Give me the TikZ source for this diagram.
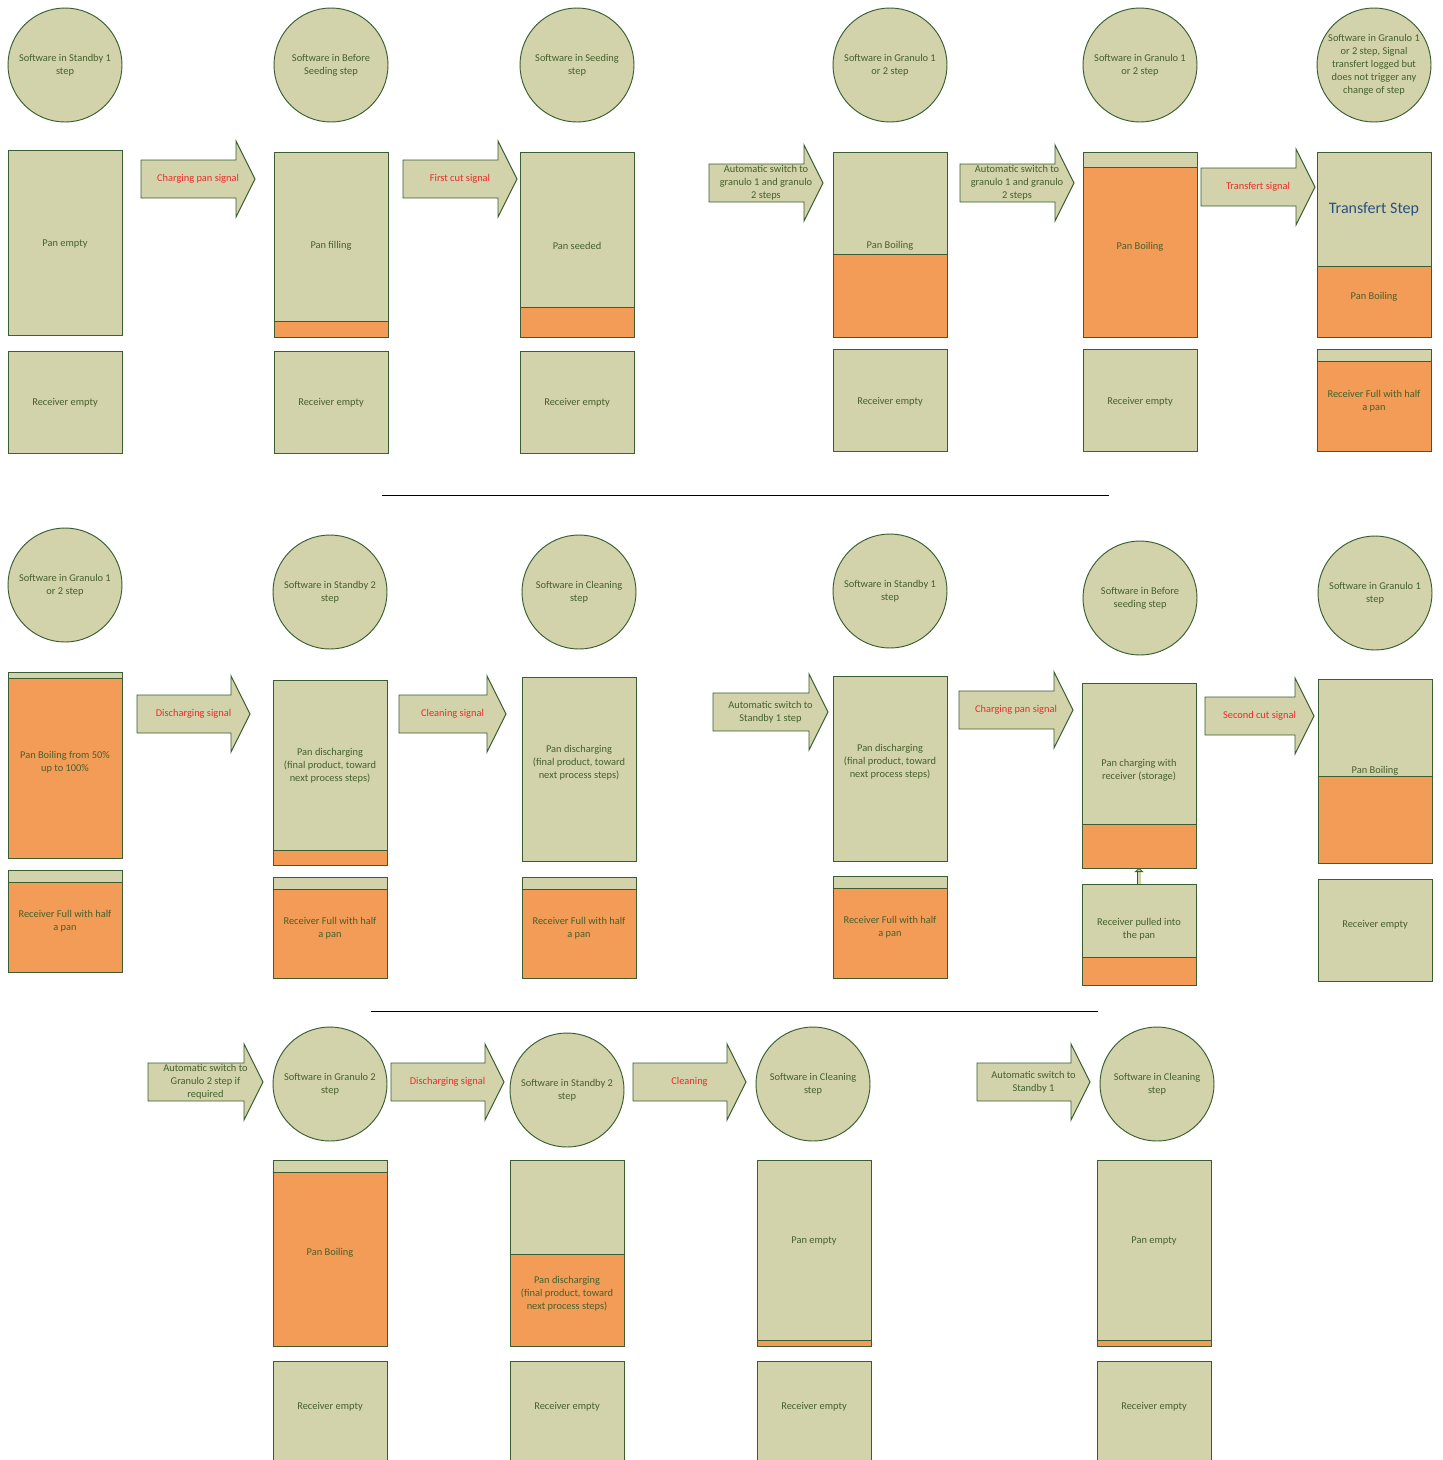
\documentclass[tikz,border=0pt]{standalone}
\usepackage{fontspec}
\setmainfont{Carlito}
\usetikzlibrary{arrows.meta, positioning}

\definecolor{olivefill}{HTML}{D2D3AA}
\definecolor{panorange}{HTML}{F39C57}
\definecolor{edgegreen}{HTML}{3A5E31}
\definecolor{labelgreen}{HTML}{45602C}
\definecolor{signalred}{HTML}{EE2A2A}
\definecolor{stepblue}{HTML}{2A4F82}

% tank: name, x1, y1, x2, y2, top of the orange part, label, label y
\newcommand{\tank}[8]{%
  \draw[tankbox] (#2,#3) rectangle (#4,#5);
  \draw[tankbox, fill=panorange] (#2,#6) rectangle (#4,#5);
  \node[lbl] (#1) at ({(#2+#4)/2},#8) {#7};
}
% signal arrow: [length], name, x of tail, y of axis, text, text style
\newcommand{\sigarrow}[6][114]{%
  \draw[sigbox] (#3,{#4-19}) -- ({#3+#1-19},{#4-19}) -- ({#3+#1-19},{#4-38})
    -- ({#3+#1},#4) -- ({#3+#1-19},{#4+38}) -- ({#3+#1-19},{#4+19})
    -- (#3,{#4+19}) -- cycle;
  \node[#6] (#2) at ({#3+#1/2},#4) {#5};
}

\begin{document}
\begin{tikzpicture}[
    x=1pt, y=-1pt,
    font=\fontsize{10.4}{13}\selectfont,
    tankbox/.style={draw=edgegreen, line width=0.95pt, fill=olivefill},
    sigbox/.style={draw=edgegreen, line width=0.95pt, fill=olivefill},
    lbl/.style={text=labelgreen, align=center, inner sep=1pt},
    sig/.style={text=signalred, align=center, inner sep=1pt},
    stepcircle/.style={circle, draw=edgegreen, line width=0.95pt, fill=olivefill,
      minimum size=114pt, inner sep=0pt, text=labelgreen, align=center},
    sepline/.style={line width=1pt, black}
  ]
  \clip (0,0) rectangle (1443,1460);

  % first row
  \node[stepcircle] (s11) at (65,65) {Software in Standby 1\\step};
  \node[stepcircle] (s12) at (331,65) {Software in Before\\Seeding step};
  \node[stepcircle] (s13) at (577,65) {Software in Seeding\\step};
  \node[stepcircle] (s14) at (890,65) {Software in Granulo 1\\or 2 step};
  \node[stepcircle] (s15) at (1140,65) {Software in Granulo 1\\or 2 step};
  \node[stepcircle] (s16) at (1374,65) {Software in Granulo 1\\or 2 step, Signal\\transfert logged but\\does not trigger any\\change of step};

  \tank{p11}{8}{150}{122}{335}{335}{Pan empty}{244}
  \tank{p12}{274}{152}{388}{337}{321}{Pan filling}{246}
  \tank{p13}{520}{152}{634}{337}{307}{Pan seeded}{246}
  \tank{p14}{833}{152}{947}{337}{254}{Pan Boiling}{246}
  \tank{p15}{1083}{152}{1197}{337}{167}{Pan Boiling}{247}
  \tank{p16}{1317}{152}{1431}{337}{266}{Pan Boiling}{297}
  \node[text=stepblue, font=\fontsize{16}{19}\selectfont] (tstep) at (1374,209) {Transfert Step};

  \tank{r11}{8}{351}{122}{453}{453}{Receiver empty}{403}
  \tank{r12}{274}{351}{388}{453}{453}{Receiver empty}{403}
  \tank{r13}{520}{351}{634}{453}{453}{Receiver empty}{403}
  \tank{r14}{833}{349}{947}{451}{451}{Receiver empty}{402}
  \tank{r15}{1083}{349}{1197}{451}{451}{Receiver empty}{402}
  \tank{r16}{1317}{349}{1431}{451}{361}{Receiver Full with half\\a pan}{401}

  \sigarrow{a11}{141}{179}{Charging pan signal}{sig}
  \sigarrow{a12}{403}{179}{First cut signal}{sig}
  \sigarrow{a13}{709}{183}{Automatic switch to\\granulo 1 and granulo\\2 steps}{lbl}
  \sigarrow{a14}{960}{183}{Automatic switch to\\granulo 1 and granulo\\2 steps}{lbl}
  \sigarrow{a15}{1201}{187}{Transfert signal}{sig}

  \draw[sepline] (382,495) -- (1109,495);

  % second row
  \node[stepcircle] (s21) at (65,585) {Software in Granulo 1\\or 2 step};
  \node[stepcircle] (s22) at (330,592) {Software in Standby 2\\step};
  \node[stepcircle] (s23) at (579,592) {Software in Cleaning\\step};
  \node[stepcircle] (s24) at (890,591) {Software in Standby 1\\step};
  \node[stepcircle] (s25) at (1140,598) {Software in Before\\seeding step};
  \node[stepcircle] (s26) at (1375,593) {Software in Granulo 1\\step};

  \tank{p21}{8}{672}{122}{858}{678}{Pan Boiling from 50\%\\up to 100\%}{762}
  \tank{p22}{273}{680}{387}{865}{850}{Pan discharging\\(final product, toward\\next process steps)}{766}
  \tank{p23}{522}{677}{636}{861}{861}{Pan discharging\\(final product, toward\\next process steps)}{763}
  \tank{p24}{833}{676}{947}{861}{861}{Pan discharging\\(final product, toward\\next process steps)}{762}
  \tank{p25}{1082}{683}{1196}{868}{824}{Pan charging with\\receiver (storage)}{770}
  \tank{p26}{1318}{679}{1432}{863}{776}{Pan Boiling}{771}

  \tank{r21}{8}{870}{122}{972}{882}{Receiver Full with half\\a pan}{921}
  \tank{r22}{273}{877}{387}{978}{889}{Receiver Full with half\\a pan}{928}
  \tank{r23}{522}{877}{636}{978}{889}{Receiver Full with half\\a pan}{928}
  \tank{r24}{833}{876}{947}{978}{888}{Receiver Full with half\\a pan}{927}
  \tank{r25}{1082}{884}{1196}{985}{957}{Receiver pulled into\\the pan}{929}
  \tank{r26}{1318}{879}{1432}{981}{981}{Receiver empty}{925}

  \coordinate (r25top) at (1139,884);
  \coordinate (p25bot) at (1139,868);
  \draw[draw=edgegreen, line width=0.8pt, double=olivefill, double distance=3pt,
    -{Triangle[length=4pt, width=9pt, fill=olivefill]}] (r25top) -- (p25bot);

  \sigarrow[113]{a21}{137}{714}{Discharging signal}{sig}
  \sigarrow[107]{a22}{399}{714}{Cleaning signal}{sig}
  \sigarrow[115]{a23}{713}{712}{Automatic switch to\\Standby 1 step}{lbl}
  \sigarrow{a24}{959}{710}{Charging pan signal}{sig}
  \sigarrow[109]{a25}{1205}{716}{Second cut signal}{sig}

  \draw[sepline] (371,1011) -- (1098,1011);

  % third row
  \sigarrow[115]{a31}{148}{1082}{Automatic switch to\\Granulo 2 step if\\required}{lbl}
  \sigarrow[113]{a32}{391}{1082}{Discharging signal}{sig}
  \sigarrow[113]{a33}{633}{1082}{Cleaning}{sig}
  \sigarrow[113]{a34}{977}{1082}{Automatic switch to\\Standby 1}{lbl}

  \node[stepcircle] (s31) at (330,1084) {Software in Granulo 2\\step};
  \node[stepcircle] (s32) at (567,1090) {Software in Standby 2\\step};
  \node[stepcircle] (s33) at (813,1084) {Software in Cleaning\\step};
  \node[stepcircle] (s34) at (1157,1084) {Software in Cleaning\\step};

  \tank{p31}{273}{1160}{387}{1346}{1172}{Pan Boiling}{1253}
  \tank{p32}{510}{1160}{624}{1346}{1254}{Pan discharging\\(final product, toward\\next process steps)}{1294}
  \tank{p33}{757}{1160}{871}{1346}{1340}{Pan empty}{1241}
  \tank{p34}{1097}{1160}{1211}{1346}{1340}{Pan empty}{1241}

  \tank{r31}{273}{1361}{387}{1470}{1470}{Receiver empty}{1407}
  \tank{r32}{510}{1361}{624}{1470}{1470}{Receiver empty}{1407}
  \tank{r33}{757}{1361}{871}{1470}{1470}{Receiver empty}{1407}
  \tank{r34}{1097}{1361}{1211}{1470}{1470}{Receiver empty}{1407}
\end{tikzpicture}
\end{document}
